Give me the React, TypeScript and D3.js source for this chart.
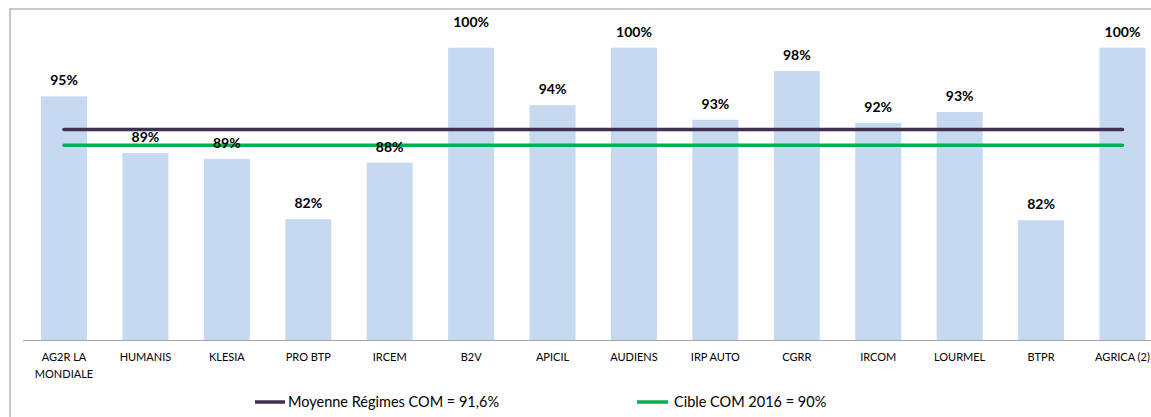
import React from "react";
import * as d3 from "d3";

const categories = [
  ["AG2R LA", "MONDIALE"],
  ["HUMANIS"],
  ["KLESIA"],
  ["PRO BTP"],
  ["IRCEM"],
  ["B2V"],
  ["APICIL"],
  ["AUDIENS"],
  ["IRP AUTO"],
  ["CGRR"],
  ["IRCOM"],
  ["LOURMEL"],
  ["BTPR"],
  ["AGRICA (2)"],
];
const values = [0.95, 0.892, 0.886, 0.824, 0.882, 1.0, 0.941, 1.0, 0.926, 0.976, 0.923, 0.934, 0.823, 1.0];
const valueLabels = ["95%", "89%", "89%", "82%", "88%", "100%", "94%", "100%", "93%", "98%", "92%", "93%", "82%", "100%"];
const moyenne = 0.916;
const cible = 0.9;
const legendLabels = ["Moyenne Régimes COM = 91,6%", "Cible COM 2016 = 90%"];

const W = 1151;
const H = 417;
const FONT = "Lato, 'Open Sans', sans-serif";

export default function App() {
  const x = d3
    .scaleBand<number>()
    .domain(d3.range(categories.length))
    .range([23.3, 1163.2])
    .paddingInner(0.435)
    .paddingOuter(0.2175);
  const y = d3.scaleLinear().domain([0.7, 1.0]).range([340, 47.7]);
  const cx = (i: number) => (x(i) as number) + x.bandwidth() / 2;
  const first = cx(0);
  const last = cx(categories.length - 1);
  const labelShift: Record<number, number> = { 5: -10 };

  return (
    <svg width={W} height={H} style={{ position: "absolute", left: 0, top: 0 }}>
      <rect x={0} y={0} width={W} height={H} fill="#fff" />
      <rect x={10} y={9} width={W + 20} height={H + 20} fill="#fff" stroke="#a6a6a6" strokeWidth={1.2} />
      {values.map((v, i) => (
        <rect key={i} x={x(i)} y={y(v)} width={x.bandwidth()} height={y(0.7) - y(v)} fill="#c6d9f1" />
      ))}
      <line x1={23} x2={W} y1={340.5} y2={340.5} stroke="#a6a6a6" strokeWidth={1.2} />
      <line x1={first} x2={last} y1={y(moyenne)} y2={y(moyenne)} stroke="#403152" strokeWidth={3.5} strokeLinecap="round" />
      <line x1={first} x2={last} y1={y(cible)} y2={y(cible)} stroke="#00b050" strokeWidth={3.5} strokeLinecap="round" />
      {values.map((v, i) => (
        <text
          key={i}
          x={cx(i)}
          y={y(v) - 11 + (labelShift[i] || 0)}
          textAnchor="middle"
          fontFamily={FONT}
          fontWeight="bold"
          fontSize={14}
          fill="#000"
        >
          {valueLabels[i]}
        </text>
      ))}
      {categories.map((c, i) => (
        <text key={i} x={cx(i)} y={361} textAnchor="middle" fontFamily={FONT} fontSize={11} fill="#000">
          {c.map((line, j) => (
            <tspan key={j} x={cx(i)} dy={j === 0 ? 0 : 16.5}>
              {line}
            </tspan>
          ))}
        </text>
      ))}
      <line x1={255} x2={285} y1={402} y2={402} stroke="#403152" strokeWidth={3.5} />
      <text x={288} y={407} fontFamily={FONT} fontSize={14.5} fill="#000">
        {legendLabels[0]}
      </text>
      <line x1={637} x2={668} y1={402} y2={402} stroke="#00b050" strokeWidth={3.5} />
      <text x={674} y={407} fontFamily={FONT} fontSize={14.5} fill="#000">
        {legendLabels[1]}
      </text>
    </svg>
  );
}
